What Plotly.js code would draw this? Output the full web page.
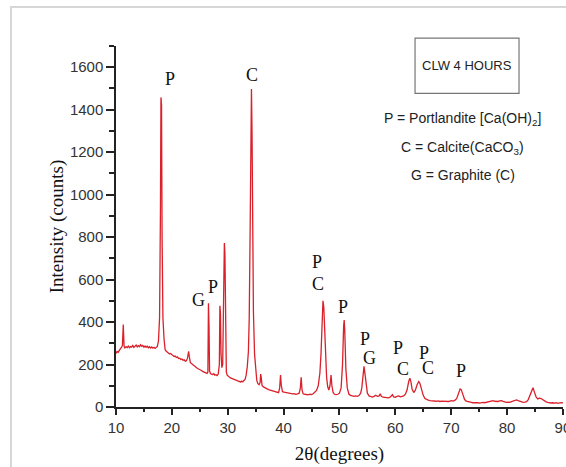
<!DOCTYPE html>
<html>
<head>
<meta charset="utf-8">
<script src="https://cdn.plot.ly/plotly-3.0.1.min.js"></script>
<style>html,body{margin:0;padding:0;background:#fff}#chart{width:566px;height:467px}</style>
</head>
<body>
<div id="chart"></div>
<script>
// XRD pattern (2θ in degrees, intensity in counts)
const twoTheta = [
10.0,10.2,10.4,10.6,10.8,11.0,11.15,11.3,11.45,
11.6,11.8,12.0,12.2,12.4,12.6,12.8,13.0,13.2,13.4,13.6,13.8,14.0,14.2,14.4,14.6,14.8,15.0,15.2,15.4,15.6,15.8,16.0,16.2,16.4,16.6,16.8,17.0,17.2,17.4,
17.6,17.8,17.95,18.05,18.15,18.25,18.4,18.6,18.8,19.0,
19.2,19.4,19.6,19.8,20.0,20.2,20.4,20.6,20.8,21.0,21.2,21.4,21.6,21.8,22.0,22.2,22.4,22.6,22.8,23.0,23.15,23.3,23.5,23.7,23.9,24.1,24.3,24.5,24.7,24.9,25.1,25.3,25.5,25.7,25.9,26.1,26.3,26.45,26.55,26.65,26.75,26.9,
27.1,27.3,27.5,27.7,27.9,28.1,28.3,28.5,28.6,28.7,28.8,28.95,29.1,29.3,29.4,29.5,29.6,29.75,29.9,
30.1,30.3,30.5,30.7,30.9,31.1,31.3,31.5,31.7,31.9,32.1,32.3,32.5,32.7,32.9,33.1,33.3,33.5,33.7,33.85,34.0,34.15,34.25,34.35,34.45,34.6,34.8,35.0,35.2,35.4,35.6,35.8,35.9,36.0,36.15,36.4,36.7,
37.0,37.3,37.6,37.9,38.2,38.5,38.8,39.1,39.3,39.45,39.6,39.8,40.1,40.4,40.7,41.0,41.3,41.6,41.9,42.2,42.5,42.8,43.0,43.15,43.3,43.5,43.8,44.1,44.4,44.7,45.0,45.3,45.6,45.9,
46.2,46.5,46.7,46.9,47.05,47.2,47.35,47.5,47.7,47.9,48.1,48.3,48.5,48.65,48.85,49.1,49.4,49.7,50.0,50.3,50.55,50.75,50.85,50.95,51.15,51.4,51.7,
52.0,52.3,52.6,52.9,53.2,53.5,53.8,54.0,54.2,54.4,54.6,54.8,55.0,55.3,55.6,55.9,56.2,56.5,56.8,57.1,57.3,57.5,57.8,58.1,58.4,58.7,59.0,59.3,59.5,59.7,
60.0,60.3,60.6,60.9,61.2,61.5,61.8,62.1,62.4,62.6,62.8,63.0,63.3,63.6,63.9,64.2,64.4,64.7,65.0,65.3,65.6,65.9,66.2,66.5,66.8,67.1,67.4,67.7,68.0,68.3,68.6,68.9,69.2,69.5,69.8,
70.1,70.4,70.7,71.0,71.3,71.6,71.8,72.1,72.4,72.7,73.0,73.3,73.6,73.9,74.2,74.5,74.8,75.1,75.4,75.7,76.0,76.3,76.6,76.9,77.2,77.5,77.8,78.1,78.4,78.7,79.0,79.3,79.6,79.9,
80.2,80.5,80.8,81.1,81.4,81.7,82.0,82.3,82.6,82.9,83.2,83.5,83.8,84.1,84.4,84.65,84.9,85.2,85.5,85.8,86.1,86.4,86.7,87.0,87.3,87.6,87.9,88.2,88.5,88.8,89.1,89.4,89.7,90.0
];
const intensity = [
252,262,258,270,275,282,290,388,285,
278,284,280,287,279,285,282,290,281,288,292,283,289,284,293,286,290,282,287,281,286,279,284,278,283,277,281,276,280,285,
310,420,900,1458,1420,800,420,320,270,262,
258,255,250,252,245,242,238,240,233,236,228,230,224,226,220,222,216,218,230,262,232,210,205,200,196,192,187,184,180,178,174,172,168,166,163,160,158,165,488,380,170,158,
155,153,157,150,152,148,155,200,477,440,250,185,200,600,772,720,300,165,150,
145,140,137,135,132,130,128,125,124,122,120,118,121,119,125,130,150,190,260,420,800,1350,1497,1300,900,450,250,160,125,110,105,115,155,140,100,95,90,
86,82,80,78,75,72,70,68,90,150,100,72,70,68,66,64,65,62,63,60,62,65,90,140,80,62,60,58,57,60,58,62,68,78,
100,160,250,400,500,470,350,230,140,95,80,100,150,100,70,60,58,60,65,90,200,380,410,360,180,90,60,
55,52,50,52,50,54,65,90,150,191,150,90,65,52,48,47,50,55,50,52,62,50,46,44,45,43,45,55,58,47,
46,50,52,48,50,52,60,80,120,136,118,85,68,80,105,120,112,80,55,40,35,32,30,29,31,28,27,29,26,28,27,25,27,26,28,
30,28,32,40,62,85,82,55,35,28,25,24,22,20,21,19,20,18,21,22,20,22,24,26,28,30,27,25,26,29,30,27,24,22,
23,22,25,28,32,33,30,27,24,22,23,25,35,55,75,91,70,48,38,42,40,34,28,24,22,20,19,20,18,20,17,19,18,20
];
// Phase labels over the peaks
const peakLabels = ['P','C','G','P','P','C','P','P','G','P','C','P','C','P'];
const labelX =     [19.7,34.3,24.85,27.3,45.9,46.2,50.65,54.55,55.3,60.5,61.3,65.15,65.9,71.7];
const labelY =     [1545,1565,506,564,682,580,473,320,233,278,178,252,183,170];
// Key text
const boxTitle = 'CLW 4 HOURS';
const keyLines = ['P = Portlandite [Ca(OH)<sub>2</sub>]', 'C = Calcite(CaCO<sub>3</sub>)', 'G = Graphite (C)'];
const keyY = [0.797, 0.717, 0.642];

const serif = 'Liberation Serif, Times New Roman, serif';
const sans = 'Liberation Sans, Arial, sans-serif';

const annotations = peakLabels.map((t, i) => ({
  x: labelX[i], y: labelY[i], xref: 'x', yref: 'y', text: t, showarrow: false,
  xanchor: 'center', yanchor: 'middle',
  font: {family: serif, size: 18, color: '#111'}
}));
annotations.push({x: 0.785, y: 0.945, xref: 'paper', yref: 'paper', text: boxTitle, showarrow: false,
  xanchor: 'center', yanchor: 'middle', font: {family: sans, size: 13, color: '#222'}});
keyLines.forEach((t, i) => annotations.push({x: 0.776, y: keyY[i], xref: 'paper', yref: 'paper', text: t,
  showarrow: false, xanchor: 'center', yanchor: 'middle', font: {family: sans, size: 14, color: '#222'}}));

const trace = {x: twoTheta, y: intensity, type: 'scatter', mode: 'lines',
  line: {color: 'rgb(218,32,42)', width: 1.3}, hoverinfo: 'x+y'};

const layout = {
  width: 566, height: 467,
  margin: {l: 116, r: 3, t: 46, b: 60},
  paper_bgcolor: '#fff', plot_bgcolor: '#fff',
  showlegend: false,
  xaxis: {
    range: [10, 90.02], dtick: 10, tick0: 10, ticks: 'outside', ticklen: 6, tickwidth: 1.5, tickcolor: '#222',
    showline: true, linecolor: '#222', linewidth: 1.5, showgrid: false, zeroline: false,
    ticklabeloverflow: 'allow',
    minor: {dtick: 5, ticks: 'outside', ticklen: 3, tickwidth: 1.5, tickcolor: '#222', showgrid: false},
    tickfont: {family: sans, size: 15, color: '#333'},
    title: {text: '2θ(degrees)', font: {family: serif, size: 19, color: '#111'}, standoff: 12}
  },
  yaxis: {
    range: [0, 1700], dtick: 200, ticks: 'outside', ticklen: 8, tickwidth: 1.5, tickcolor: '#222',
    showline: true, linecolor: '#222', linewidth: 1.5, showgrid: false, zeroline: false,
    minor: {dtick: 100, ticks: 'outside', ticklen: 5, tickwidth: 1.5, tickcolor: '#222', showgrid: false},
    tickfont: {family: sans, size: 15, color: '#333'},
    title: {text: 'Intensity (counts)', font: {family: serif, size: 19, color: '#111'}, standoff: 1}
  },
  shapes: [
    {type: 'rect', xref: 'paper', yref: 'paper', x0: 0.669, x1: 0.9016, y0: 0.869, y1: 1.022,
      line: {color: '#777', width: 1.2}},
    {type: 'rect', xref: 'paper', yref: 'paper', x0: -0.235, x1: 1.2, y0: -0.3, y1: 1.108,
      line: {color: '#d6d6d6', width: 2}}
  ],
  annotations: annotations
};

Plotly.newPlot('chart', [trace], layout, {displayModeBar: false});
</script>
</body>
</html>
